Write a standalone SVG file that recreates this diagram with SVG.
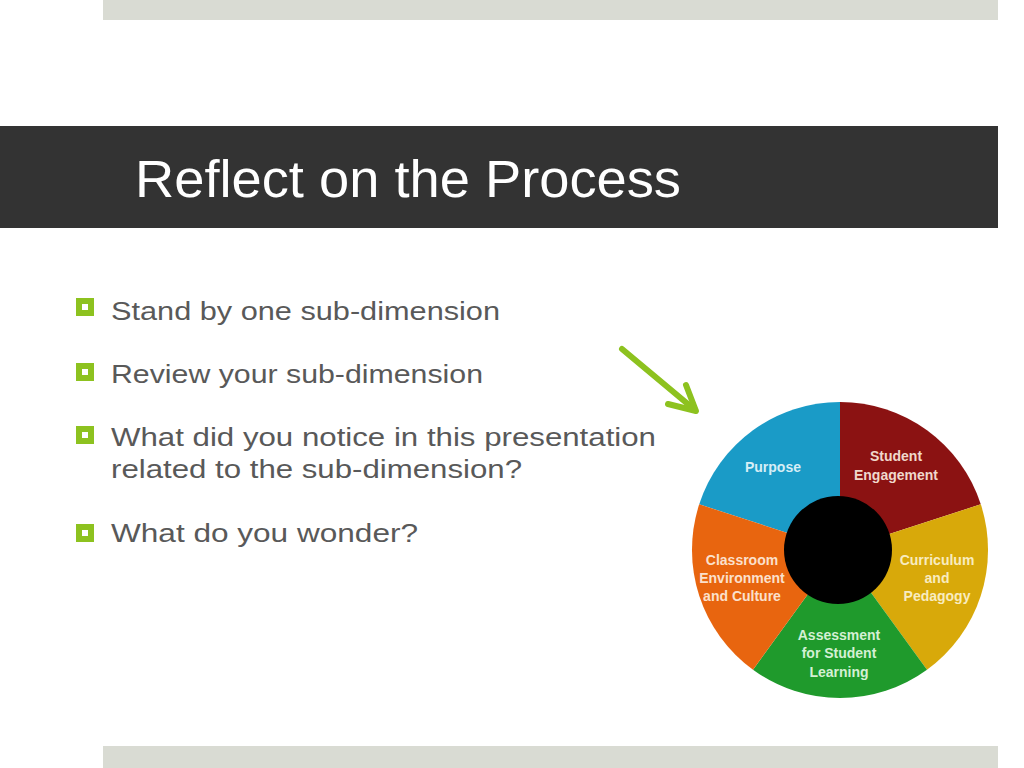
<svg xmlns="http://www.w3.org/2000/svg" width="1024" height="768" viewBox="0 0 1024 768">
<style>
.bar{fill:#d9dbd3}
.body{font-family:"Liberation Sans",Arial,sans-serif;font-size:26px;fill:#595959}
.bul{fill:none;stroke:#8dc21f;stroke-width:6}
.lbl{font-family:"Liberation Sans",Arial,sans-serif;font-size:14px;font-weight:bold;text-anchor:middle}
</style>
<rect width="1024" height="768" fill="#ffffff"/>
<rect class="bar" x="103" y="0" width="895" height="20"/>
<rect class="bar" x="103" y="746" width="895" height="22"/>
<g id="title">
<rect x="0" y="126" width="998" height="102" fill="#333333"/>
<text x="135" y="197" font-family="'Liberation Sans',Arial,sans-serif" font-size="51" fill="#ffffff" textLength="546" lengthAdjust="spacingAndGlyphs">Reflect on the Process</text>
</g>
<g id="bullets">
<rect class="bul" x="79" y="301" width="12" height="12"/>
<text class="body" x="111" y="320" textLength="389" lengthAdjust="spacingAndGlyphs">Stand by one sub-dimension</text>
<rect class="bul" x="79" y="366" width="12" height="12"/>
<text class="body" x="111" y="383" textLength="372" lengthAdjust="spacingAndGlyphs">Review your sub-dimension</text>
<rect class="bul" x="79" y="429" width="12" height="12"/>
<text class="body" x="111" y="446" textLength="545" lengthAdjust="spacingAndGlyphs">What did you notice in this presentation</text>
<text class="body" x="111" y="478" textLength="411" lengthAdjust="spacingAndGlyphs">related to the sub-dimension?</text>
<rect class="bul" x="79" y="527" width="12" height="12"/>
<text class="body" x="111" y="542" textLength="307" lengthAdjust="spacingAndGlyphs">What do you wonder?</text>
</g>
<g id="connectors">
<g fill="none" stroke="#8dc21f" stroke-width="6" stroke-linecap="round" stroke-linejoin="round">
<line x1="622" y1="349" x2="695" y2="410"/>
<polyline points="668,404 696,411 686,385"/>
</g>
</g>
<g id="wheel">
<g id="purpose">
<path d="M840,550 L699.2,504.3 A148,148 0 0 1 840,402 Z" fill="#1a9bc7"/>
<text class="lbl" x="773" y="472" fill="#d6eef6">Purpose</text>
</g>
<g id="student-engagement">
<path d="M840,550 L840,402 A148,148 0 0 1 980.8,504.3 Z" fill="#8b1212"/>
<text class="lbl" x="896" y="461" fill="#f0d8cc">Student</text>
<text class="lbl" x="896" y="480" fill="#f0d8cc">Engagement</text>
</g>
<g id="curriculum">
<path d="M840,550 L980.8,504.3 A148,148 0 0 1 927,669.7 Z" fill="#d8a90a"/>
<text class="lbl" x="937" y="565" fill="#f8ecc0">Curriculum</text>
<text class="lbl" x="937" y="583" fill="#f8ecc0">and</text>
<text class="lbl" x="937" y="601" fill="#f8ecc0">Pedagogy</text>
</g>
<g id="assessment">
<path d="M840,550 L927,669.7 A148,148 0 0 1 753,669.7 Z" fill="#1f9a2c"/>
<text class="lbl" x="839" y="640" fill="#d4f0d4">Assessment</text>
<text class="lbl" x="839" y="658" fill="#d4f0d4">for Student</text>
<text class="lbl" x="839" y="677" fill="#d4f0d4">Learning</text>
</g>
<g id="classroom">
<path d="M840,550 L753,669.7 A148,148 0 0 1 699.2,504.3 Z" fill="#e8650f"/>
<text class="lbl" x="742" y="565" fill="#fbe0cc">Classroom</text>
<text class="lbl" x="742" y="583" fill="#fbe0cc">Environment</text>
<text class="lbl" x="742" y="601" fill="#fbe0cc">and Culture</text>
</g>
<circle id="hub" cx="838" cy="550" r="54" fill="#000000"/>
</g>
</svg>
